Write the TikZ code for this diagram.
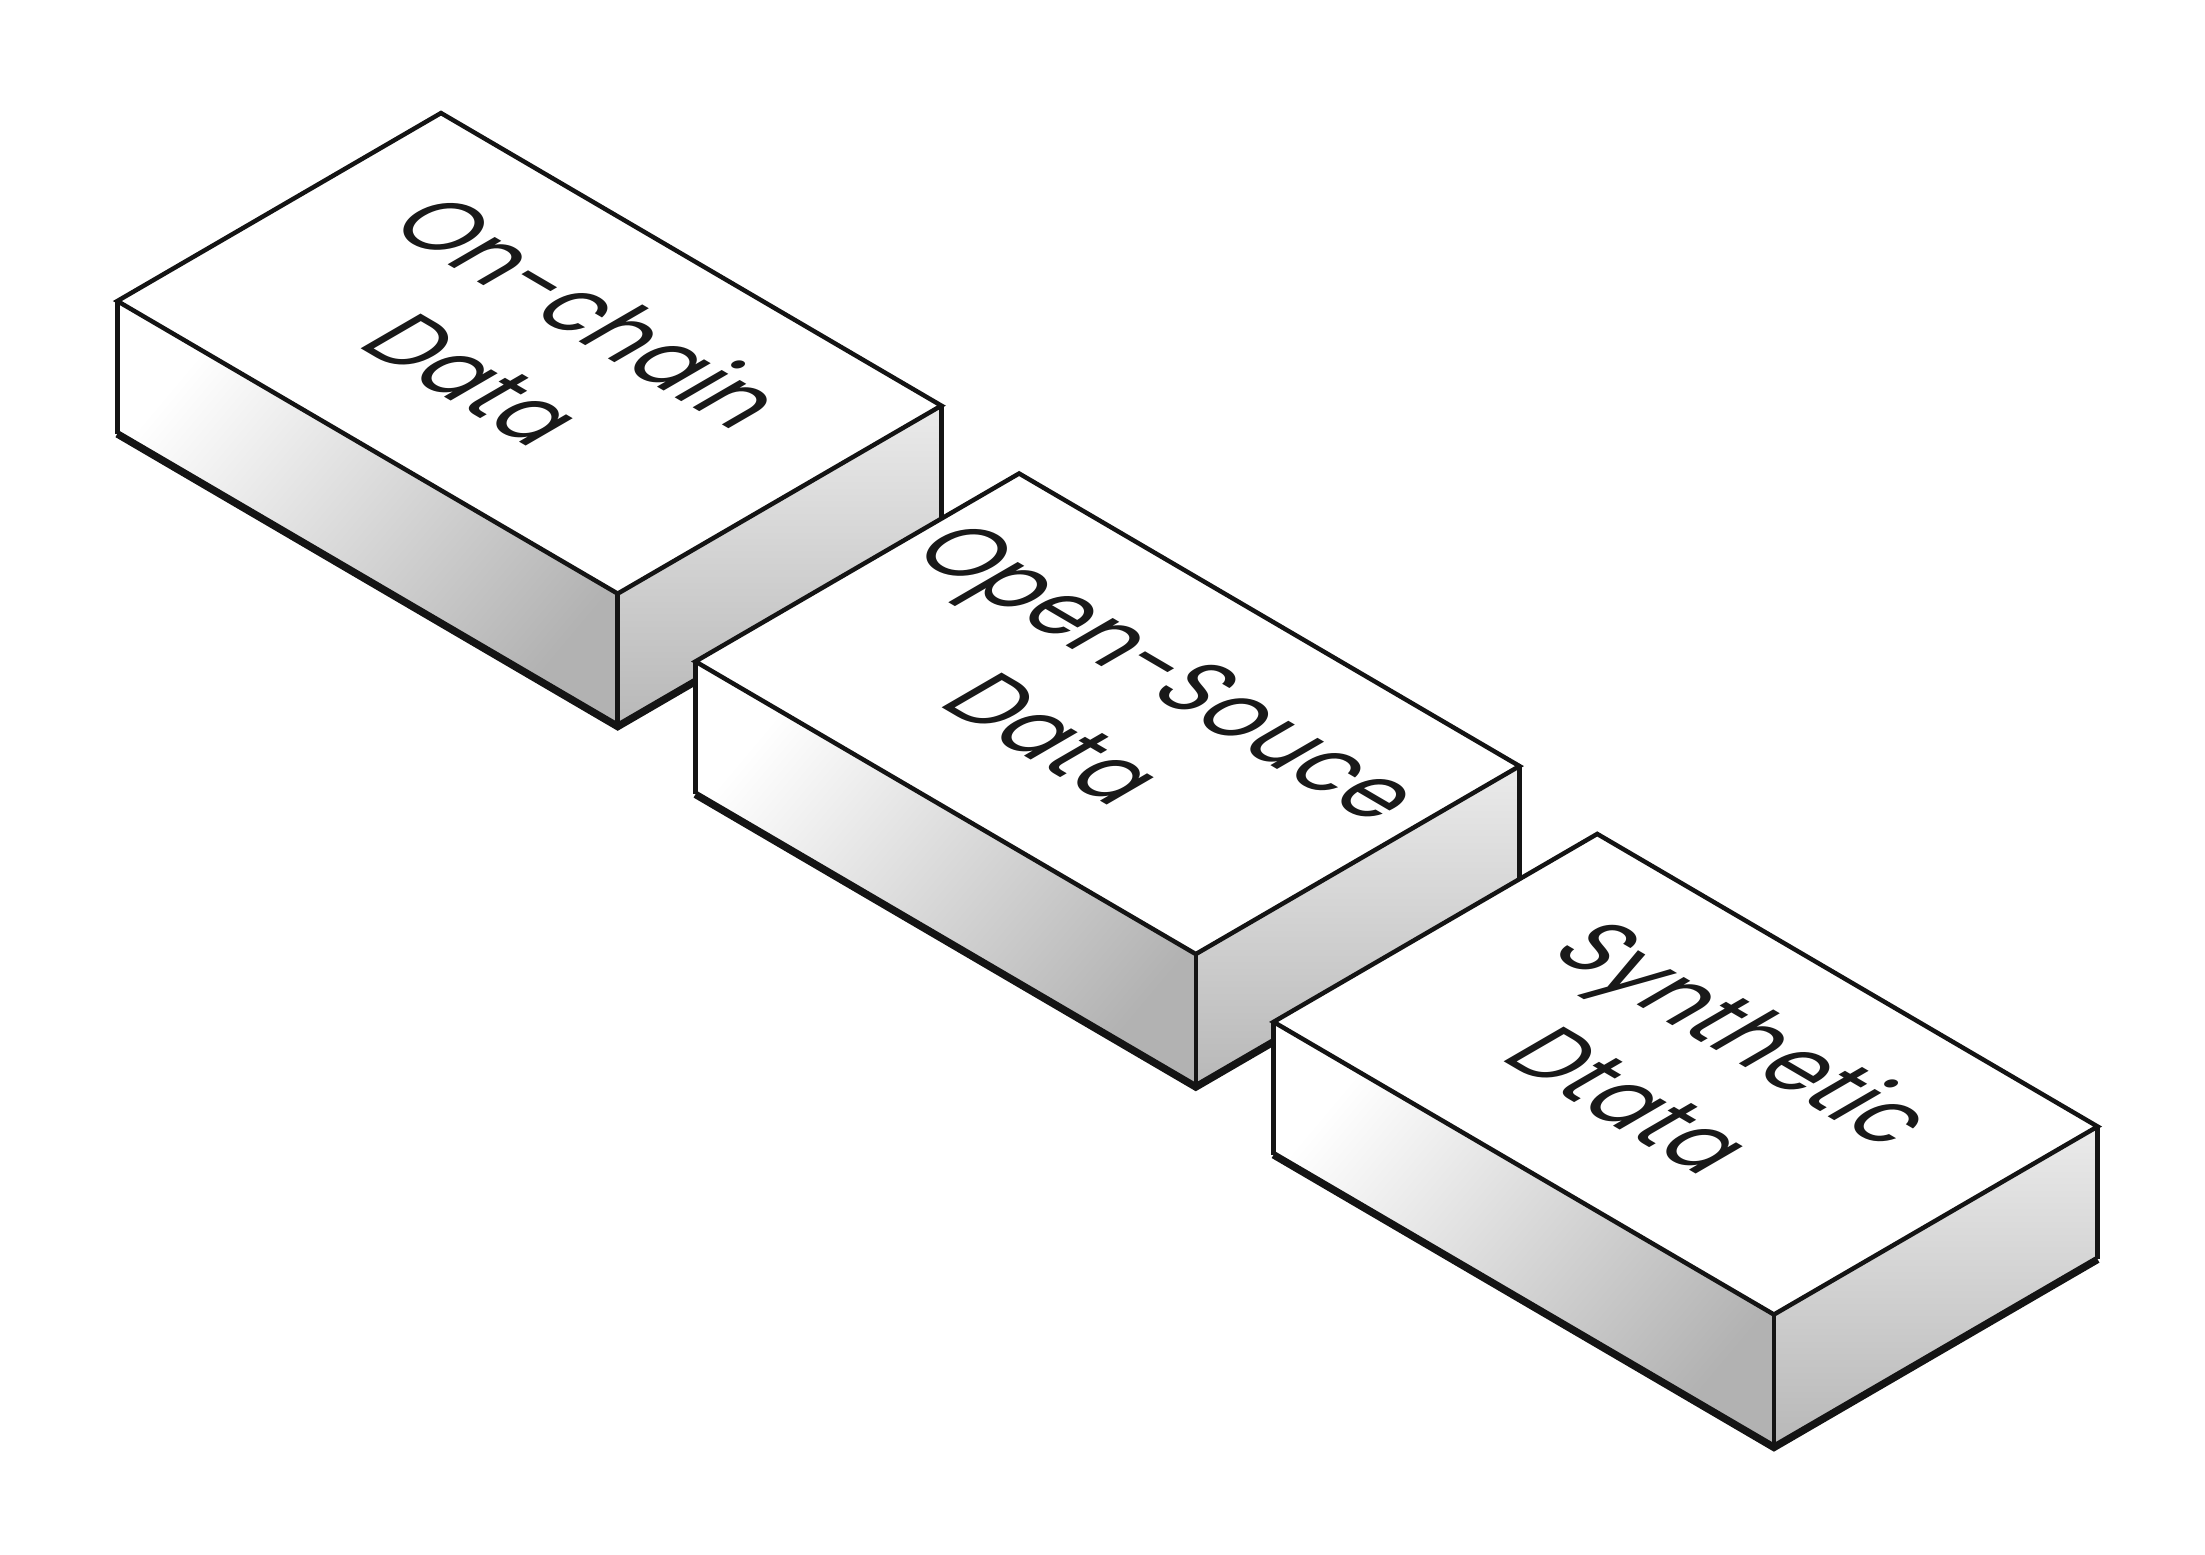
\documentclass[tikz,border=0pt]{standalone}
\usepackage{fontspec}
\setmainfont{Poppins}
\begin{document}
\begin{tikzpicture}[
topface/.style={draw=black!92,fill=white,line width=0.9pt},
frontface/.style={top color=white,bottom color=black!30,shading angle=50},
sideface/.style={top color=black!8,bottom color=black!28},
edgeline/.style={draw=black!92,line width=0.9pt},
bottomline/.style={draw=black!92,line width=1.5pt},
isotext/.style={cm={0.733,-0.429,0.865,0.502,(0,0)},transform shape,align=center,text=black!90,font=\fontsize{20}{27}\selectfont},
]
\useasboundingbox (0,0) rectangle (15.6,11);

% three isometric blocks, back to front
\foreach \x/\y/\name/\txt in {3.12/10.20/chain/{On-chain\\Data},
                              7.21/7.65/open/{Open-Souce\\Data},
                              11.30/5.10/synth/{Synthetic\\Dtata}}{
  \path (\x,\y) coordinate (\name-t)
        ++(3.54,-2.07) coordinate (\name-r)
        ++(-2.29,-1.33) coordinate (\name-f)
        ++(-3.54,2.07) coordinate (\name-l);
  \path (\name-l) ++(0,-0.94) coordinate (\name-lb);
  \path (\name-f) ++(0,-0.94) coordinate (\name-fb);
  \path (\name-r) ++(0,-0.94) coordinate (\name-rb);
  \path (\name-t) ++(0.66,-1.64) coordinate (\name-c);

  \shade[frontface] (\name-l) -- (\name-f) -- (\name-fb) -- (\name-lb) -- cycle;
  \shade[sideface] (\name-f) -- (\name-r) -- (\name-rb) -- (\name-fb) -- cycle;
  \draw[topface] (\name-t) -- (\name-r) -- (\name-f) -- (\name-l) -- cycle;
  \draw[edgeline] (\name-l) -- (\name-lb) (\name-f) -- (\name-fb) (\name-r) -- (\name-rb);
  \draw[bottomline] (\name-lb) -- (\name-fb) -- (\name-rb);

  \node[isotext] (\name) at (\name-c) {\txt};
}
\end{tikzpicture}
\end{document}
